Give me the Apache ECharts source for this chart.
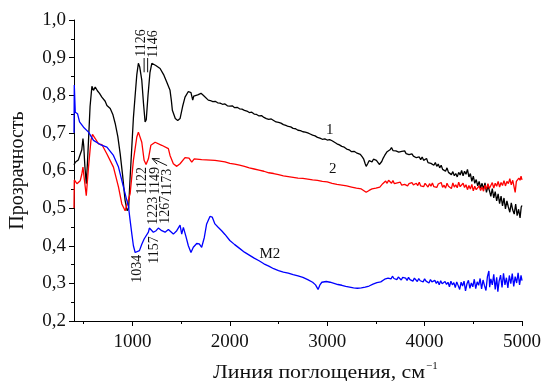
<!DOCTYPE html>
<html>
<head>
<meta charset="utf-8">
<script src="https://cdn.jsdelivr.net/npm/echarts@6/dist/echarts.min.js"></script>
<style>
  html, body { margin: 0; padding: 0; background: #fff; }
  #chart { width: 544px; height: 381px; }
</style>
</head>
<body>
<div id="chart"></div>
<script>
// wavenumber (cm-1), transmittance
const curve1 = [
  [400, 0.615], [413, 0.622], [430, 0.618], [444, 0.628], [464, 0.632], [480, 0.655], [492, 0.685],
  [500, 0.665], [512, 0.61], [526, 0.565], [538, 0.62], [549, 0.68], [565, 0.77], [584, 0.824],
  [600, 0.813], [618, 0.822], [640, 0.812], [662, 0.805], [686, 0.795], [700, 0.8], [720, 0.784],
  [738, 0.773], [772, 0.765], [800, 0.748], [823, 0.725], [850, 0.69], [874, 0.645], [900, 0.585],
  [925, 0.52], [946, 0.493], [961, 0.5], [976, 0.58], [993, 0.66], [1010, 0.74], [1028, 0.8],
  [1045, 0.855], [1061, 0.885], [1075, 0.875], [1096, 0.84], [1113, 0.78], [1130, 0.729], [1142, 0.735],
  [1160, 0.8], [1180, 0.86], [1199, 0.885], [1240, 0.879], [1284, 0.871], [1320, 0.855], [1352, 0.835],
  [1386, 0.813], [1400, 0.785], [1410, 0.76], [1440, 0.738], [1465, 0.733], [1489, 0.738], [1515, 0.77],
  [1540, 0.795], [1574, 0.81], [1601, 0.807], [1612, 0.795], [1619, 0.787], [1630, 0.798], [1642, 0.802],
  [1670, 0.801], [1704, 0.805], [1727, 0.8], [1779, 0.787], [1800, 0.786], [1825, 0.783], [1850, 0.784],
  [1875, 0.78], [1900, 0.779], [1925, 0.776], [1950, 0.777], [1975, 0.772], [2000, 0.771], [2025, 0.772],
  [2050, 0.767], [2075, 0.768], [2100, 0.764], [2125, 0.763], [2150, 0.76], [2175, 0.758], [2200, 0.754],
  [2225, 0.755], [2250, 0.75], [2275, 0.749], [2300, 0.745], [2325, 0.746], [2350, 0.741], [2375, 0.738],
  [2400, 0.736], [2425, 0.737], [2450, 0.733], [2475, 0.729], [2500, 0.728], [2525, 0.726], [2550, 0.722],
  [2575, 0.72], [2600, 0.717], [2625, 0.716], [2650, 0.712], [2675, 0.711], [2700, 0.707], [2725, 0.706],
  [2750, 0.703], [2775, 0.702], [2800, 0.7], [2825, 0.697], [2850, 0.694], [2875, 0.692], [2900, 0.688],
  [2925, 0.686], [2950, 0.683], [2975, 0.684], [3000, 0.681], [3025, 0.682], [3050, 0.679], [3075, 0.675],
  [3100, 0.671], [3125, 0.668], [3150, 0.664], [3175, 0.662], [3200, 0.657], [3225, 0.655], [3250, 0.65],
  [3275, 0.651], [3300, 0.647], [3320, 0.646], [3340, 0.643], [3360, 0.636], [3375, 0.63], [3390, 0.618],
  [3400, 0.611], [3415, 0.618], [3430, 0.626], [3445, 0.628], [3460, 0.623], [3475, 0.63], [3490, 0.631],
  [3505, 0.627], [3520, 0.622], [3535, 0.616], [3545, 0.611], [3560, 0.624], [3575, 0.633], [3590, 0.64],
  [3600, 0.64], [3615, 0.65], [3630, 0.646], [3645, 0.655], [3660, 0.661], [3675, 0.653], [3690, 0.658],
  [3705, 0.652], [3720, 0.655], [3735, 0.649], [3750, 0.654], [3765, 0.651], [3780, 0.647], [3795, 0.652],
  [3810, 0.645], [3825, 0.65], [3840, 0.642], [3855, 0.647], [3870, 0.644], [3885, 0.638], [3900, 0.643],
  [3915, 0.634], [3930, 0.639], [3945, 0.636], [3960, 0.629], [3975, 0.636], [3990, 0.627], [4005, 0.625],
  [4020, 0.632], [4035, 0.621], [4050, 0.626], [4065, 0.619], [4080, 0.624], [4095, 0.614], [4110, 0.621],
  [4125, 0.611], [4140, 0.617], [4155, 0.607], [4170, 0.614], [4185, 0.603], [4200, 0.606], [4215, 0.598],
  [4230, 0.607], [4245, 0.595], [4260, 0.6], [4275, 0.589], [4290, 0.597], [4305, 0.586], [4320, 0.592],
  [4335, 0.583], [4350, 0.595], [4365, 0.588], [4380, 0.6], [4395, 0.586], [4410, 0.598], [4425, 0.59],
  [4440, 0.603], [4455, 0.583], [4470, 0.592], [4485, 0.571], [4500, 0.585], [4515, 0.566], [4530, 0.576],
  [4545, 0.559], [4560, 0.571], [4575, 0.553], [4590, 0.566], [4605, 0.55], [4620, 0.567], [4635, 0.542],
  [4650, 0.558], [4665, 0.547], [4680, 0.531], [4695, 0.552], [4710, 0.527], [4725, 0.544], [4740, 0.519],
  [4755, 0.538], [4770, 0.512], [4785, 0.532], [4800, 0.506], [4815, 0.527], [4830, 0.498], [4845, 0.519],
  [4860, 0.503], [4875, 0.489], [4890, 0.514], [4905, 0.495], [4920, 0.484], [4935, 0.511], [4950, 0.48],
  [4965, 0.497], [4980, 0.474], [4992, 0.503], [5000, 0.507]
];

const curve2 = [
  [400, 0.5], [403, 0.575], [430, 0.565], [464, 0.573], [480, 0.59], [492, 0.609], [505, 0.579],
  [526, 0.533], [549, 0.609], [574, 0.68], [590, 0.696], [618, 0.685], [635, 0.686], [652, 0.671],
  [686, 0.669], [738, 0.644], [805, 0.609], [857, 0.556], [891, 0.511], [925, 0.493], [943, 0.498],
  [976, 0.538], [1010, 0.627], [1045, 0.689], [1061, 0.702], [1072, 0.702], [1096, 0.675], [1120, 0.627],
  [1140, 0.616], [1164, 0.631], [1189, 0.667], [1233, 0.675], [1301, 0.667], [1369, 0.658], [1386, 0.64],
  [1420, 0.618], [1455, 0.611], [1489, 0.618], [1540, 0.634], [1581, 0.633], [1609, 0.622], [1635, 0.631],
  [1711, 0.629], [1847, 0.627], [1900, 0.625], [1950, 0.623], [2000, 0.619], [2050, 0.617], [2100, 0.614],
  [2150, 0.611], [2200, 0.607], [2250, 0.604], [2300, 0.601], [2350, 0.598], [2400, 0.594], [2450, 0.592],
  [2500, 0.589], [2550, 0.586], [2600, 0.584], [2650, 0.582], [2700, 0.58], [2750, 0.579], [2800, 0.577],
  [2850, 0.575], [2900, 0.574], [2950, 0.571], [3000, 0.57], [3050, 0.566], [3100, 0.563], [3150, 0.561],
  [3200, 0.559], [3250, 0.556], [3300, 0.553], [3350, 0.551], [3400, 0.542], [3430, 0.547], [3460, 0.551],
  [3500, 0.553], [3540, 0.556], [3570, 0.565], [3600, 0.572], [3615, 0.566], [3630, 0.574], [3645, 0.569],
  [3660, 0.566], [3675, 0.573], [3690, 0.565], [3705, 0.57], [3720, 0.567], [3735, 0.563], [3750, 0.569],
  [3765, 0.561], [3780, 0.566], [3795, 0.563], [3810, 0.568], [3825, 0.559], [3840, 0.565], [3855, 0.561],
  [3870, 0.568], [3885, 0.562], [3900, 0.558], [3915, 0.566], [3930, 0.56], [3945, 0.569], [3960, 0.559],
  [3975, 0.564], [3990, 0.557], [4005, 0.566], [4020, 0.561], [4035, 0.556], [4050, 0.565], [4065, 0.558],
  [4080, 0.567], [4095, 0.557], [4110, 0.562], [4125, 0.555], [4140, 0.564], [4155, 0.559], [4170, 0.568],
  [4185, 0.555], [4200, 0.561], [4215, 0.553], [4230, 0.566], [4245, 0.558], [4260, 0.563], [4275, 0.552],
  [4290, 0.567], [4305, 0.556], [4320, 0.562], [4335, 0.554], [4350, 0.569], [4365, 0.557], [4380, 0.553],
  [4395, 0.566], [4410, 0.555], [4425, 0.562], [4440, 0.549], [4455, 0.56], [4470, 0.551], [4485, 0.563],
  [4500, 0.546], [4515, 0.558], [4530, 0.549], [4545, 0.544], [4560, 0.559], [4575, 0.547], [4590, 0.556],
  [4605, 0.545], [4620, 0.561], [4635, 0.55], [4650, 0.565], [4665, 0.552], [4680, 0.56], [4695, 0.568],
  [4710, 0.553], [4725, 0.566], [4740, 0.558], [4755, 0.571], [4770, 0.556], [4785, 0.568], [4800, 0.56],
  [4815, 0.573], [4830, 0.559], [4845, 0.571], [4860, 0.565], [4875, 0.578], [4890, 0.562], [4905, 0.574],
  [4920, 0.569], [4930, 0.542], [4942, 0.571], [4955, 0.566], [4968, 0.58], [4980, 0.574], [4990, 0.585],
  [5000, 0.575]
];

const curveM2 = [
  [400, 0.7], [403, 0.827], [413, 0.755], [423, 0.76], [436, 0.751], [457, 0.729], [498, 0.715],
  [549, 0.702], [600, 0.68], [669, 0.669], [738, 0.662], [805, 0.64], [857, 0.609], [908, 0.556],
  [943, 0.52], [959, 0.505], [975, 0.47], [994, 0.431], [1010, 0.4], [1028, 0.382], [1045, 0.378],
  [1072, 0.387], [1096, 0.404], [1120, 0.418], [1140, 0.413], [1164, 0.436], [1174, 0.447], [1189, 0.445],
  [1215, 0.436], [1243, 0.44], [1266, 0.447], [1301, 0.44], [1335, 0.436], [1369, 0.443], [1386, 0.44],
  [1420, 0.431], [1455, 0.44], [1489, 0.455], [1506, 0.431], [1523, 0.449], [1547, 0.427], [1574, 0.4],
  [1601, 0.382], [1625, 0.396], [1660, 0.406], [1686, 0.405], [1711, 0.396], [1738, 0.422], [1762, 0.458],
  [1796, 0.478], [1820, 0.476], [1847, 0.458], [1880, 0.449], [1916, 0.44], [1950, 0.43], [2000, 0.414],
  [2050, 0.403], [2100, 0.393], [2150, 0.383], [2200, 0.375], [2250, 0.367], [2300, 0.36], [2350, 0.352],
  [2400, 0.346], [2450, 0.339], [2500, 0.334], [2550, 0.33], [2600, 0.327], [2650, 0.323], [2700, 0.32],
  [2750, 0.316], [2800, 0.31], [2850, 0.303], [2880, 0.296], [2906, 0.284], [2925, 0.296], [2945, 0.303],
  [2990, 0.305], [3010, 0.301], [3030, 0.303], [3050, 0.298], [3070, 0.3], [3090, 0.296], [3110, 0.297],
  [3130, 0.293], [3150, 0.295], [3170, 0.29], [3190, 0.292], [3210, 0.288], [3230, 0.29], [3250, 0.286],
  [3270, 0.288], [3290, 0.285], [3310, 0.287], [3330, 0.284], [3350, 0.288], [3370, 0.286], [3390, 0.29],
  [3410, 0.288], [3430, 0.293], [3450, 0.294], [3470, 0.298], [3490, 0.3], [3510, 0.302], [3530, 0.305],
  [3550, 0.304], [3570, 0.309], [3590, 0.311], [3610, 0.308], [3625, 0.314], [3640, 0.318], [3655, 0.312],
  [3670, 0.319], [3685, 0.313], [3700, 0.316], [3715, 0.31], [3730, 0.317], [3745, 0.312], [3760, 0.309],
  [3775, 0.316], [3790, 0.311], [3805, 0.314], [3820, 0.308], [3835, 0.316], [3850, 0.31], [3865, 0.313],
  [3880, 0.306], [3895, 0.314], [3910, 0.309], [3925, 0.305], [3940, 0.313], [3955, 0.307], [3970, 0.311],
  [3985, 0.304], [4000, 0.312], [4015, 0.306], [4030, 0.309], [4045, 0.301], [4060, 0.31], [4075, 0.304],
  [4090, 0.299], [4105, 0.308], [4120, 0.3], [4135, 0.306], [4150, 0.296], [4165, 0.307], [4180, 0.299],
  [4195, 0.294], [4210, 0.305], [4225, 0.297], [4240, 0.303], [4255, 0.291], [4270, 0.306], [4285, 0.296],
  [4300, 0.302], [4315, 0.289], [4330, 0.304], [4345, 0.294], [4360, 0.284], [4375, 0.303], [4390, 0.293],
  [4405, 0.306], [4420, 0.28], [4435, 0.299], [4450, 0.308], [4465, 0.287], [4480, 0.301], [4495, 0.291],
  [4510, 0.311], [4525, 0.286], [4540, 0.304], [4555, 0.295], [4570, 0.313], [4585, 0.285], [4600, 0.309],
  [4615, 0.294], [4630, 0.281], [4645, 0.318], [4660, 0.333], [4668, 0.29], [4680, 0.312], [4695, 0.296],
  [4710, 0.324], [4725, 0.284], [4740, 0.316], [4752, 0.278], [4765, 0.306], [4780, 0.322], [4795, 0.289],
  [4810, 0.327], [4825, 0.296], [4840, 0.315], [4855, 0.288], [4870, 0.321], [4885, 0.299], [4900, 0.326],
  [4915, 0.292], [4930, 0.318], [4945, 0.301], [4960, 0.328], [4975, 0.296], [4990, 0.321], [5000, 0.307]
];

const xMajorTicks = [1000, 2000, 3000, 4000, 5000];
const xMinorTicks = [500, 1500, 2500, 3500, 4500];

// peak labels, placed in data coordinates
const peakNotes = [
  { text: "1126", at: [1089, 0.939] },
  { text: "1146", at: [1212, 0.936] },
  { text: "1122", at: [1099, 0.573] },
  { text: "1149", at: [1233, 0.573] },
  { text: "1173", at: [1356, 0.568] },
  { text: "1223", at: [1212, 0.493] },
  { text: "1267", at: [1335, 0.496] },
  { text: "1157", at: [1222, 0.389] },
  { text: "1034", at: [1048, 0.339] },
];
const curveNotes = [
  { text: "1", at: [3026, 0.707] },
  { text: "2", at: [3057, 0.603] },
  { text: "M2", at: [2411, 0.379] },
];

const FONT = "'Liberation Serif', 'Times New Roman', serif";
const chart = echarts.init(document.getElementById("chart"));

const baseX = {
  type: "value",
  min: 400,
  max: 5000,
  gridIndex: 0,
  position: "bottom",
  splitLine: { show: false },
};

chart.setOption({
  animation: false,
  grid: { left: 73, right: 21, top: 20, bottom: 60, containLabel: false },
  xAxis: [
    {
      ...baseX,
      axisLine: { onZero: false, lineStyle: { color: "#000", width: 1 } },
      axisTick: { inside: false, length: 5, customValues: xMajorTicks, lineStyle: { color: "#000" } },
      axisLabel: {
        customValues: xMajorTicks,
        margin: 12,
        color: "#111",
        fontFamily: FONT,
        fontSize: 19,
        formatter: (v) => String(v),
      },
    },
    {
      ...baseX,
      axisLine: { show: false, onZero: false },
      axisTick: { inside: false, length: 3, customValues: xMinorTicks, lineStyle: { color: "#000" } },
      axisLabel: { show: false },
    },
  ],
  yAxis: {
    type: "value",
    min: 0.2,
    max: 1.0,
    interval: 0.1,
    name: "Прозрачность",
    nameLocation: "middle",
    nameRotate: 90,
    nameGap: 46,
    nameTextStyle: { fontFamily: FONT, fontSize: 20, color: "#111" },
    axisLine: { show: true, lineStyle: { color: "#000", width: 1 } },
    axisTick: { show: true, inside: false, length: 5, lineStyle: { color: "#000" } },
    minorTick: { show: true, splitNumber: 2, length: 3, lineStyle: { color: "#000" } },
    splitLine: { show: false },
    axisLabel: {
      margin: 8,
      color: "#111",
      fontFamily: FONT,
      fontSize: 19,
      formatter: (v) => v.toFixed(1).replace(".", ","),
    },
  },
  series: [
    { type: "line", data: curve1, showSymbol: false, symbol: "none", lineStyle: { color: "#000", width: 1.3 } },
    { type: "line", data: curve2, showSymbol: false, symbol: "none", lineStyle: { color: "#ff0000", width: 1.3 } },
    { type: "line", data: curveM2, showSymbol: false, symbol: "none", lineStyle: { color: "#0000ff", width: 1.3 } },
  ],
});

const px = (p) => chart.convertToPixel({ xAxisIndex: 0, yAxisIndex: 0 }, p);
const graphics = [];

peakNotes.forEach((n) => {
  const [x, y] = px(n.at);
  graphics.push({
    type: "text",
    x: x,
    y: y,
    rotation: Math.PI / 2,
    style: {
      text: n.text,
      fill: "#111",
      font: "14px " + FONT,
      align: "center",
      verticalAlign: "middle",
    },
  });
});

curveNotes.forEach((n) => {
  const [x, y] = px(n.at);
  graphics.push({
    type: "text",
    x: x,
    y: y,
    style: { text: n.text, fill: "#111", font: "15px " + FONT, align: "center", verticalAlign: "middle" },
  });
});

// leader marks under 1126 / 1146
[[1120, 0.899, 0.861], [1156, 0.899, 0.861]].forEach(([w, t1, t2]) => {
  const a = px([w, t1]);
  const b = px([w, t2]);
  graphics.push({
    type: "line",
    shape: { x1: a[0], y1: a[1], x2: b[0], y2: b[1] },
    style: { stroke: "#111", lineWidth: 1 },
  });
});

// arrow to the 1149 dip on curve 2
const tail = px([1356, 0.613]);
const head = px([1202, 0.632]);
const dx = head[0] - tail[0];
const dy = head[1] - tail[1];
const len = Math.hypot(dx, dy);
const ux = dx / len, uy = dy / len;
graphics.push({
  type: "line",
  shape: { x1: tail[0], y1: tail[1], x2: head[0], y2: head[1] },
  style: { stroke: "#111", lineWidth: 1 },
});
graphics.push({
  type: "polyline",
  shape: {
    points: [
      [head[0] - ux * 7 - uy * 3, head[1] - uy * 7 + ux * 3],
      head,
      [head[0] - ux * 7 + uy * 3, head[1] - uy * 7 - ux * 3],
    ],
  },
  style: { stroke: "#111", lineWidth: 1, fill: null },
});

// x axis title with superscript
graphics.push({
  type: "text",
  x: 213,
  y: 373,
  scaleX: 1.15,
  style: { text: "Линия поглощения, см", fill: "#111", font: "19px " + FONT, align: "left", verticalAlign: "middle" },
});
graphics.push({
  type: "text",
  x: 426,
  y: 366,
  style: { text: "−1", fill: "#111", font: "11px " + FONT, align: "left", verticalAlign: "middle" },
});

chart.setOption({ graphic: graphics });
</script>
</body>
</html>
